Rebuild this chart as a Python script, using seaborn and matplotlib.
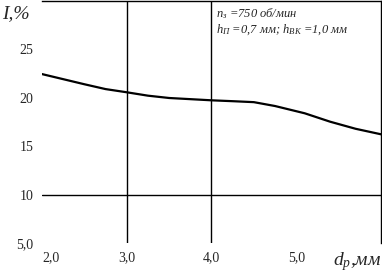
import matplotlib
matplotlib.use("Agg")
import matplotlib.pyplot as plt
import seaborn as sns
import pandas as pd

# data
d_p = [2.0, 2.5, 2.75, 3.0, 3.25, 3.5, 4.0, 4.25, 4.5, 4.75, 5.1, 5.4, 5.7, 6.0]
I_pct = [22.45, 21.4, 20.9, 20.57, 20.22, 19.98, 19.74, 19.65, 19.55, 19.15,
         18.4, 17.53, 16.8, 16.23]
x_ticks = [2.0, 3.0, 4.0, 5.0]
x_labels = ["2,0", "3,0", "4,0", "5,0"]
y_ticks = [5, 10, 15, 20, 25]
y_labels = ["5,0", "10", "15", "20", "25"]

sns.set_style("white")
plt.rcParams['font.family'] = ['Liberation Serif', 'DejaVu Serif']
plt.rcParams['mathtext.fontset'] = 'custom'
plt.rcParams['mathtext.rm'] = 'Liberation Serif'
plt.rcParams['mathtext.it'] = 'Liberation Serif:italic'

df = pd.DataFrame({"d": d_p, "I": I_pct})

fig = plt.figure(figsize=(3.82, 2.80), dpi=100)
ax = fig.add_axes([42/382, 1 - 243/280, 339/382, 242/280])
sns.lineplot(data=df, x="d", y="I", ax=ax, color="black", linewidth=1.6)

ax.set_xlim(2.0, 6.0)
ax.set_ylim(5, 30)
ax.axhline(10, color="black", lw=1.0)
ax.axvline(3.0, color="black", lw=1.0)
ax.axvline(4.0, color="black", lw=1.0)

for s in ["left", "bottom"]:
    ax.spines[s].set_visible(False)
for s in ["top", "right"]:
    ax.spines[s].set_visible(True)
    ax.spines[s].set_color("black")
    ax.spines[s].set_linewidth(1.0)

ax.set_xticks(x_ticks)
ax.set_xticklabels(x_labels, fontsize=10)
ax.set_yticks(y_ticks)
ax.set_yticklabels(y_labels, fontsize=10)
ax.tick_params(length=0, pad=6)
ax.get_xticklabels()[0].set_horizontalalignment("left")
ax.set_xlabel("")
ax.set_ylabel("")

fig.text(2/382, 1 - 14/280, "I,%", fontsize=14, style="italic", va="center", ha="left")
fig.text(333/382, 1 - 262/280, r"$d_{p}$,мм", fontsize=14, va="center", ha="left",
         style="italic")
fig.text(216/382, 1 - 14/280, r"$n_{з}$ =750 об/мин", fontsize=9, style="italic",
         va="center", ha="left")
fig.text(216/382, 1 - 30/280, r"$h_{П}$ =0,7 мм; $h_{ВК}$ =1,0 мм", fontsize=9,
         style="italic", va="center", ha="left")

fig.savefig("out.png", dpi=100)
